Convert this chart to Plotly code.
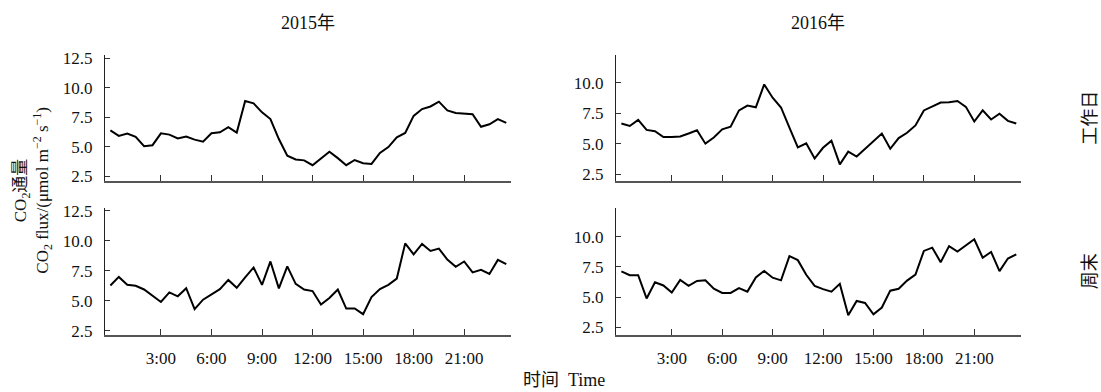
import plotly.graph_objects as go

# Time of day (hours), half-hourly
hours = [0, 0.5, 1, 1.5, 2, 2.5, 3, 3.5, 4, 4.5, 5, 5.5, 6, 6.5, 7, 7.5, 8, 8.5, 9, 9.5,
         10, 10.5, 11, 11.5, 12, 12.5, 13, 13.5, 14, 14.5, 15, 15.5, 16, 16.5, 17, 17.5,
         18, 18.5, 19, 19.5, 20, 20.5, 21, 21.5, 22, 22.5, 23, 23.5]

tick_vals = [3, 6, 9, 12, 15, 18, 21]
tick_text = ["3:00", "6:00", "9:00", "12:00", "15:00", "18:00", "21:00"]

years = ["2015年", "2016年"]
day_types = ["工作日", "周末"]

flux_2015_workday = [6.39, 5.92, 6.12, 5.84, 5.05, 5.13, 6.14, 6.03, 5.71, 5.87,
                     5.60, 5.43, 6.14, 6.23, 6.66, 6.20, 8.88, 8.69, 7.92, 7.35,
                     5.65, 4.23, 3.92, 3.84, 3.43, 3.98, 4.58, 4.03, 3.43, 3.87,
                     3.60, 3.54, 4.47, 4.97, 5.79, 6.17, 7.62, 8.20, 8.42, 8.83,
                     8.09, 7.87, 7.79, 7.76, 6.70, 6.91, 7.35, 7.02]

flux_2016_workday = [6.66, 6.45, 6.95, 6.13, 6.02, 5.54, 5.54, 5.59, 5.83, 6.10,
                     5.00, 5.51, 6.18, 6.39, 7.73, 8.13, 7.99, 9.86, 8.77, 7.97,
                     6.31, 4.69, 5.03, 3.78, 4.66, 5.25, 3.30, 4.34, 3.94, 4.58,
                     5.22, 5.83, 4.58, 5.46, 5.89, 6.50, 7.73, 8.05, 8.37, 8.39,
                     8.50, 8.02, 6.82, 7.73, 6.98, 7.46, 6.87, 6.66]

flux_2015_weekend = [6.26, 6.98, 6.32, 6.24, 5.93, 5.44, 4.89, 5.69, 5.36, 6.04,
                     4.29, 5.08, 5.55, 5.96, 6.73, 6.07, 6.95, 7.77, 6.32, 8.27,
                     6.02, 7.86, 6.40, 5.93, 5.80, 4.67, 5.22, 5.93, 4.34, 4.34,
                     3.87, 5.30, 5.96, 6.32, 6.84, 9.78, 8.87, 9.73, 9.15, 9.34,
                     8.43, 7.83, 8.27, 7.36, 7.58, 7.23, 8.40, 8.04]

flux_2016_weekend = [7.14, 6.82, 6.82, 4.90, 6.23, 5.97, 5.38, 6.42, 5.94, 6.34,
                     6.39, 5.70, 5.35, 5.35, 5.75, 5.46, 6.63, 7.17, 6.61, 6.39,
                     8.39, 8.06, 6.85, 5.94, 5.67, 5.46, 6.10, 3.51, 4.69, 4.53,
                     3.59, 4.15, 5.54, 5.70, 6.37, 6.87, 8.82, 9.09, 7.89, 9.22,
                     8.77, 9.25, 9.78, 8.26, 8.74, 7.15, 8.19, 8.54]

W, H = 1101, 392
FONT = "Liberation Serif, Times New Roman, Noto Sans CJK SC, serif"

def px_x(a, b):
    return [a / W, b / W]

def px_y(top, bottom):
    return [1 - bottom / H, 1 - top / H]

fig = go.Figure()
series = [("x", "y", flux_2015_workday), ("x2", "y2", flux_2016_workday),
          ("x3", "y3", flux_2015_weekend), ("x4", "y4", flux_2016_weekend)]
for xa, ya, vals in series:
    fig.add_trace(go.Scatter(x=hours, y=vals, mode="lines", xaxis=xa, yaxis=ya,
                             line=dict(color="black", width=2), showlegend=False,
                             hoverinfo="skip"))

xdom_left = px_x(105, 511)
xdom_right = px_x(616, 1021)
ydom_top = px_y(50, 180)
ydom_bot = px_y(208, 339)

def xax(domain, anchor, labels):
    return dict(domain=domain, anchor=anchor, range=[-0.32, 23.78],
                tickvals=tick_vals, ticktext=tick_text, showticklabels=labels,
                ticks="inside", ticklen=6, tickwidth=1.2, tickcolor="#333",
                showline=True, linecolor="#555", linewidth=2,
                showgrid=False, zeroline=False, ticklabelstandoff=6,
                tickfont=dict(family=FONT, size=17, color="#111"))

def yax(domain, anchor, rng, vals):
    return dict(domain=domain, anchor=anchor, range=rng,
                tickvals=vals, ticktext=["%.1f" % v for v in vals],
                ticks="inside", ticklen=5, tickwidth=1.2, tickcolor="#333",
                showline=True, linecolor="#222", linewidth=1.3,
                showgrid=False, zeroline=False, ticklabelstandoff=8,
                tickfont=dict(family=FONT, size=17, color="#111"))

ticks_full = [2.5, 5.0, 7.5, 10.0, 12.5]
ticks_short = [2.5, 5.0, 7.5, 10.0]

fig.update_layout(
    width=W, height=H,
    margin=dict(l=0, r=0, t=0, b=0),
    paper_bgcolor="white", plot_bgcolor="white",
    xaxis=xax(xdom_left, "y", False),
    xaxis2=xax(xdom_right, "y2", False),
    xaxis3=xax(xdom_left, "y3", True),
    xaxis4=xax(xdom_right, "y4", True),
    yaxis=yax(ydom_top, "x", [2.09, 12.83], ticks_full),
    yaxis2=yax(ydom_top, "x2", [1.94, 12.31], ticks_short),
    yaxis3=yax(ydom_bot, "x3", [2.09, 12.72], ticks_full),
    yaxis4=yax(ydom_bot, "x4", [1.84, 12.35], ticks_short),
)

ann_font = dict(family=FONT, size=18, color="#111")
anns = [
    dict(text=years[0], x=308 / W, y=1 - 18 / H),
    dict(text=years[1], x=818 / W, y=1 - 18 / H),
    dict(text=day_types[0], x=1090 / W, y=1 - 115 / H, textangle=-90),
    dict(text=day_types[1], x=1090 / W, y=1 - 273 / H, textangle=-90),
    dict(text="时间  Time", x=564 / W, y=1 - 385 / H),
    dict(text="CO<sub>2</sub>通量<br>CO<sub>2</sub> flux/(μmol m<sup>−2</sup> s<sup>−1</sup>)",
         x=33 / W, y=1 - 190 / H, textangle=-90, font=dict(family=FONT, size=17, color="#111")),
]
for a in anns:
    a.setdefault("font", ann_font)
    fig.add_annotation(xref="paper", yref="paper", showarrow=False,
                       xanchor="center", yanchor="middle", **a)

fig.write_html("out.html", config={"displayModeBar": False},
               post_script="document.body.style.margin='0';document.body.style.padding='0';")
